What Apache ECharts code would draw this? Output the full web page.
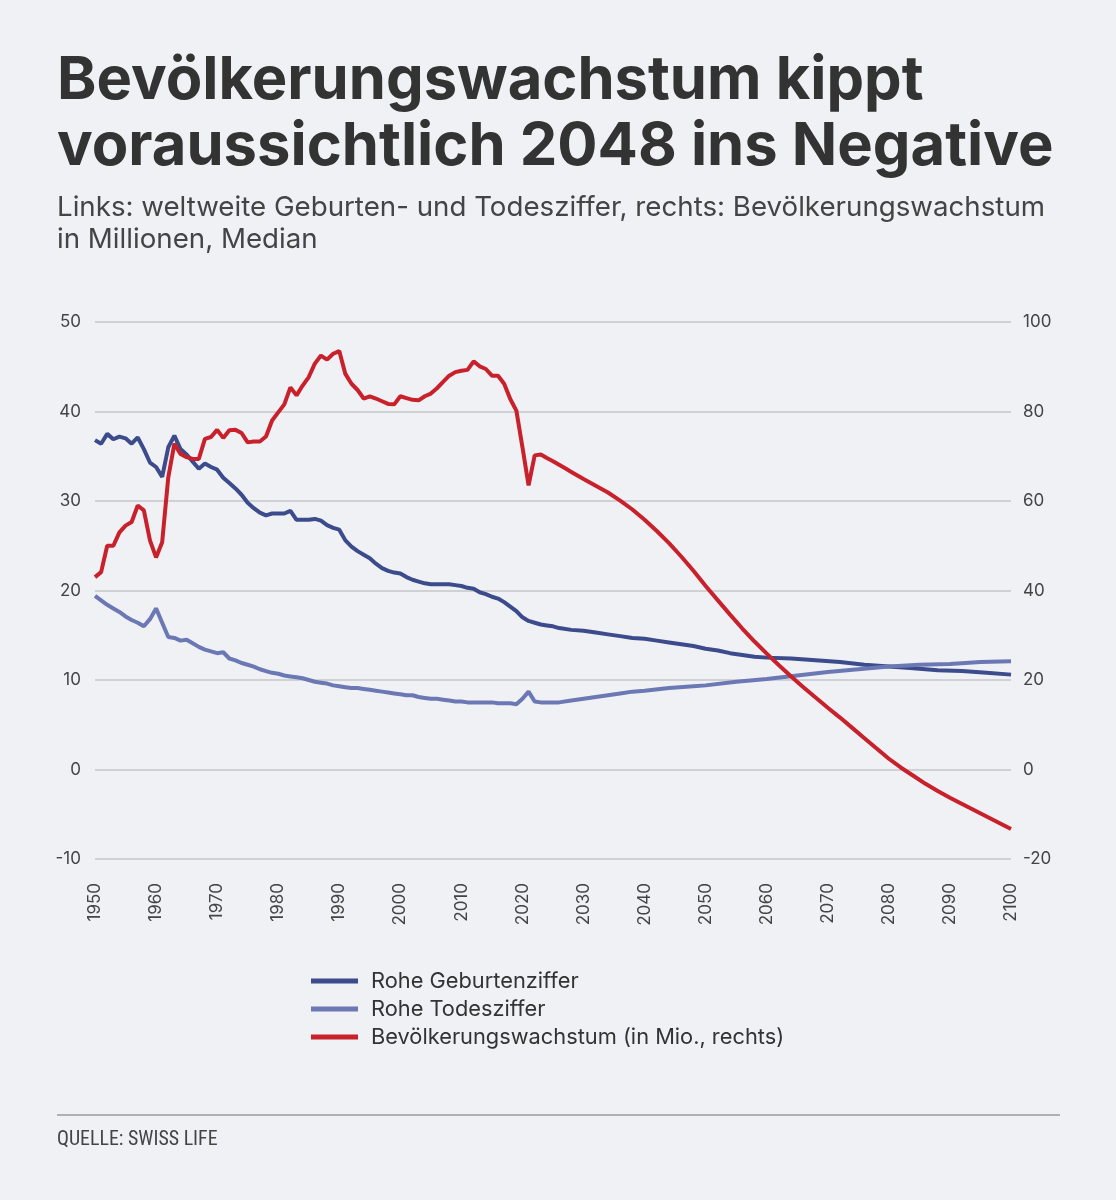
<!DOCTYPE html>
<html>
<head>
<meta charset="utf-8">
<script src="https://cdn.jsdelivr.net/npm/echarts@6/dist/echarts.min.js"></script>
<style>
  html, body { margin: 0; padding: 0; background: #f0f1f5; }
  #chart { width: 1116px; height: 1200px; }
</style>
</head>
<body>
<div id="chart"></div>
<script>
// Rohe Geburtenziffer (links)
let birthYears = [1950, 1951, 1952, 1953, 1954, 1955, 1956, 1957, 1958, 1959,
  1960, 1961, 1962, 1963, 1964, 1965, 1966, 1967, 1968, 1969,
  1970, 1971, 1972, 1973, 1974, 1975, 1976, 1977, 1978, 1979,
  1980, 1981, 1982, 1983, 1984, 1985, 1986, 1987, 1988, 1989,
  1990, 1991, 1992, 1993, 1994, 1995, 1996, 1997, 1998, 1999,
  2000, 2001, 2002, 2003, 2004, 2005, 2006, 2007, 2008, 2009,
  2010, 2011, 2012, 2013, 2014, 2015, 2016, 2017, 2018, 2019,
  2020, 2021, 2022, 2023, 2024, 2025, 2026, 2028, 2030, 2032,
  2034, 2036, 2038, 2040, 2042, 2044, 2046, 2048, 2050, 2052,
  2054, 2056, 2058, 2060, 2064, 2068, 2072, 2076, 2080, 2084,
  2088, 2092, 2096, 2100];
let birthRates = [36.8, 36.4, 37.5, 36.9, 37.2, 37.0, 36.4, 37.1, 35.8, 34.3,
  33.8, 32.7, 36.0, 37.3, 35.8, 35.2, 34.4, 33.6, 34.2, 33.8,
  33.5, 32.6, 32.0, 31.4, 30.7, 29.8, 29.2, 28.7, 28.4, 28.6,
  28.6, 28.6, 28.9, 27.9, 27.9, 27.9, 28.0, 27.8, 27.3, 27.0,
  26.8, 25.6, 24.9, 24.4, 24.0, 23.6, 23.0, 22.5, 22.2, 22.0,
  21.9, 21.5, 21.2, 21.0, 20.8, 20.7, 20.7, 20.7, 20.7, 20.6,
  20.5, 20.3, 20.2, 19.8, 19.6, 19.3, 19.1, 18.7, 18.2, 17.7,
  17.0, 16.6, 16.4, 16.2, 16.1, 16.0, 15.8, 15.6, 15.5, 15.3,
  15.1, 14.9, 14.7, 14.6, 14.4, 14.2, 14.0, 13.8, 13.5, 13.3,
  13.0, 12.8, 12.6, 12.5, 12.4, 12.2, 12.0, 11.7, 11.5, 11.3,
  11.1, 11.0, 10.8, 10.6];

// Rohe Todesziffer (links)
let deathYears = [1950, 1951, 1952, 1953, 1954, 1955, 1956, 1957, 1958, 1959,
  1960, 1961, 1962, 1963, 1964, 1965, 1966, 1967, 1968, 1969,
  1970, 1971, 1972, 1973, 1974, 1975, 1976, 1977, 1978, 1979,
  1980, 1981, 1982, 1983, 1984, 1985, 1986, 1987, 1988, 1989,
  1990, 1991, 1992, 1993, 1994, 1995, 1996, 1997, 1998, 1999,
  2000, 2001, 2002, 2003, 2004, 2005, 2006, 2007, 2008, 2009,
  2010, 2011, 2012, 2013, 2014, 2015, 2016, 2017, 2018, 2019,
  2020, 2021, 2022, 2023, 2024, 2025, 2026, 2028, 2030, 2032,
  2034, 2036, 2038, 2040, 2044, 2048, 2050, 2055, 2060, 2065,
  2070, 2075, 2080, 2085, 2090, 2095, 2100];
let deathRates = [19.4, 18.9, 18.4, 18.0, 17.6, 17.1, 16.7, 16.4, 16.0, 16.8,
  18.0, 16.4, 14.8, 14.7, 14.4, 14.5, 14.1, 13.7, 13.4, 13.2,
  13.0, 13.1, 12.4, 12.2, 11.9, 11.7, 11.5, 11.2, 11.0, 10.8,
  10.7, 10.5, 10.4, 10.3, 10.2, 10.0, 9.8, 9.7, 9.6, 9.4,
  9.3, 9.2, 9.1, 9.1, 9.0, 8.9, 8.8, 8.7, 8.6, 8.5,
  8.4, 8.3, 8.3, 8.1, 8.0, 7.9, 7.9, 7.8, 7.7, 7.6,
  7.6, 7.5, 7.5, 7.5, 7.5, 7.5, 7.4, 7.4, 7.4, 7.3,
  7.9, 8.7, 7.6, 7.5, 7.5, 7.5, 7.5, 7.7, 7.9, 8.1,
  8.3, 8.5, 8.7, 8.8, 9.1, 9.3, 9.4, 9.8, 10.1, 10.5,
  10.9, 11.2, 11.5, 11.7, 11.8, 12.0, 12.1];

// Bevölkerungswachstum in Mio. (rechts)
let growthYears = [1950, 1951, 1952, 1953, 1954, 1955, 1956, 1957, 1958, 1959,
  1960, 1961, 1962, 1963, 1964, 1965, 1966, 1967, 1968, 1969,
  1970, 1971, 1972, 1973, 1974, 1975, 1976, 1977, 1978, 1979,
  1980, 1981, 1982, 1983, 1984, 1985, 1986, 1987, 1988, 1989,
  1990, 1991, 1992, 1993, 1994, 1995, 1996, 1997, 1998, 1999,
  2000, 2001, 2002, 2003, 2004, 2005, 2006, 2007, 2008, 2009,
  2010, 2011, 2012, 2013, 2014, 2015, 2016, 2017, 2018, 2019,
  2020, 2021, 2022, 2023, 2024, 2025, 2026, 2027, 2028, 2029,
  2030, 2032, 2034, 2036, 2038, 2040, 2042, 2044, 2046, 2048,
  2050, 2052, 2054, 2056, 2058, 2060, 2062, 2064, 2066, 2068,
  2070, 2072, 2074, 2076, 2078, 2080, 2082, 2084, 2086, 2088,
  2090, 2092, 2094, 2096, 2098, 2100];
let growthValues = [43.0, 44.1, 50.0, 50.0, 53.0, 54.5, 55.3, 59.0, 57.9, 51.2,
  47.4, 50.8, 65.3, 72.8, 70.5, 69.8, 69.4, 69.4, 73.9, 74.3,
  75.9, 74.1, 75.8, 75.9, 75.2, 73.1, 73.3, 73.3, 74.4, 78.0,
  79.8, 81.6, 85.4, 83.6, 85.8, 87.7, 90.7, 92.5, 91.6, 92.9,
  93.5, 88.4, 86.2, 84.8, 82.9, 83.4, 82.9, 82.3, 81.7, 81.6,
  83.4, 83.0, 82.6, 82.5, 83.4, 84.0, 85.2, 86.6, 88.0, 88.8,
  89.1, 89.3, 91.2, 90.1, 89.5, 88.0, 88.0, 86.2, 82.8, 80.2,
  72.0, 63.5, 70.2, 70.4, 69.6, 68.9, 68.1, 67.3, 66.5, 65.7,
  64.9, 63.4, 61.9, 60.1, 58.1, 55.8, 53.3, 50.6, 47.6, 44.4,
  41.0, 37.8, 34.6, 31.5, 28.6, 25.9, 23.3, 20.8, 18.4, 16.1,
  13.8, 11.6, 9.3, 7.0, 4.7, 2.4, 0.4, -1.4, -3.2, -4.8,
  -6.3, -7.7, -9.1, -10.5, -11.9, -13.3];

let seriesNames = ['Rohe Geburtenziffer', 'Rohe Todesziffer', 'Bevölkerungswachstum (in Mio., rechts)'];
let seriesColors = ['#3b4b8b', '#6c78b4', '#c8212b'];

let titleLines = ['Bevölkerungswachstum kippt', 'voraussichtlich 2048 ins Negative'];
let subtitleLines = ['Links: weltweite Geburten- und Todesziffer, rechts: Bevölkerungswachstum',
  'in Millionen, Median'];
let sourceText = 'QUELLE: SWISS LIFE';

function pairs(xs, ys) {
  let out = [];
  for (let i = 0; i < xs.length; i++) out.push([xs[i], ys[i]]);
  return out;
}

// find font size so that text gets the wanted width
function fitSize(text, weight, family, target) {
  let ctx = document.createElement('canvas').getContext('2d');
  ctx.font = weight + ' 100px ' + family;
  let w = ctx.measureText(text).width;
  return Math.round(100 * target / w * 10) / 10;
}

let titleFont = 'Inter, "Noto Sans", sans-serif';
let titleSize = fitSize(titleLines[1], 'bold', titleFont, 996);
let subSize = fitSize(subtitleLines[0], 'normal', titleFont, 990);
let legendSize = fitSize(seriesNames[2], 'normal', titleFont, 414);
let srcFont = '"Liberation Sans Narrow", "Roboto Condensed", Roboto, sans-serif';
let srcSize = fitSize(sourceText, 'normal', srcFont, 161);

let chart = echarts.init(document.getElementById('chart'), null, { renderer: 'canvas' });

let option = {
  animation: false,
  backgroundColor: '#f0f1f5',
  textStyle: { fontFamily: titleFont },
  graphic: [
    {
      type: 'text', left: 57, top: 48,
      style: {
        text: titleLines.join('\n'),
        font: 'bold ' + titleSize + 'px ' + titleFont,
        lineHeight: 66,
        fill: '#333333'
      }
    },
    {
      type: 'text', left: 57, top: 192,
      style: {
        text: subtitleLines.join('\n'),
        font: subSize + 'px ' + titleFont,
        lineHeight: 32,
        fill: '#444444'
      }
    },
    {
      type: 'line',
      shape: { x1: 57, y1: 1115, x2: 1060, y2: 1115 },
      style: { stroke: '#9a9a9a', lineWidth: 1.5 }
    },
    {
      type: 'text', left: 57, top: 1130,
      style: {
        text: sourceText,
        font: srcSize + 'px ' + srcFont,
        fill: '#444444'
      }
    }
  ],
  legend: {
    orient: 'vertical',
    left: 311,
    top: 970,
    padding: 0,
    itemWidth: 47,
    itemHeight: 5,
    itemGap: 6,
    icon: 'rect',
    data: seriesNames,
    textStyle: {
      fontSize: legendSize,
      color: '#333333',
      padding: [0, 0, 0, 8],
      lineHeight: 20
    }
  },
  grid: {
    left: 95,
    right: 105,
    top: 322,
    bottom: 341,
    containLabel: false
  },
  xAxis: {
    type: 'value',
    min: 1950,
    max: 2100,
    interval: 10,
    axisLine: { show: false },
    axisTick: { show: false },
    splitLine: { show: false },
    axisLabel: {
      rotate: 90,
      margin: 24,
      fontSize: 17,
      color: '#444444',
      showMinLabel: true,
      showMaxLabel: true,
      formatter: function(v) {
        return String(v);
      }
    }
  },
  yAxis: [
    {
      type: 'value',
      min: -10,
      max: 50,
      interval: 10,
      position: 'left',
      axisLine: { show: false },
      axisTick: { show: false },
      axisLabel: { fontSize: 17, color: '#444444', margin: 14 },
      splitLine: { lineStyle: { color: '#c5c6ca', width: 1.5 } }
    },
    {
      type: 'value',
      min: -20,
      max: 100,
      interval: 20,
      position: 'right',
      axisLine: { show: false },
      axisTick: { show: false },
      axisLabel: { fontSize: 17, color: '#444444', margin: 12 },
      splitLine: { show: false }
    }
  ],
  series: [
    {
      name: seriesNames[0],
      type: 'line',
      yAxisIndex: 0,
      data: pairs(birthYears, birthRates),
      showSymbol: false,
      color: seriesColors[0],
      lineStyle: { width: 4, color: seriesColors[0] },
      z: 2
    },
    {
      name: seriesNames[1],
      type: 'line',
      yAxisIndex: 0,
      data: pairs(deathYears, deathRates),
      showSymbol: false,
      color: seriesColors[1],
      lineStyle: { width: 4, color: seriesColors[1] },
      z: 3
    },
    {
      name: seriesNames[2],
      type: 'line',
      yAxisIndex: 1,
      data: pairs(growthYears, growthValues),
      showSymbol: false,
      color: seriesColors[2],
      lineStyle: { width: 4, color: seriesColors[2] },
      z: 4
    }
  ]
};

chart.setOption(option);
</script>
</body>
</html>
